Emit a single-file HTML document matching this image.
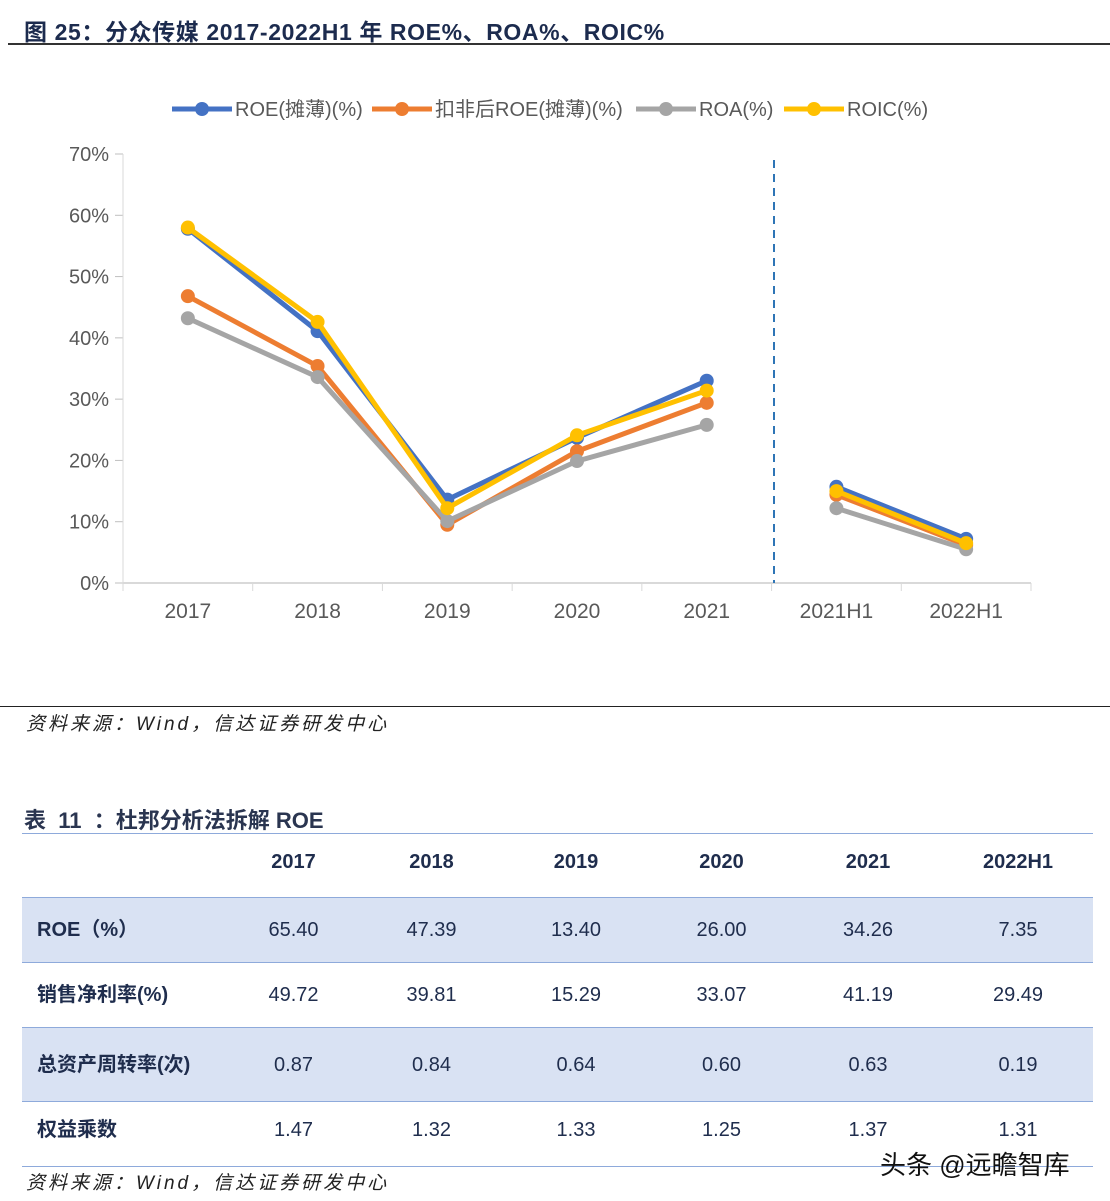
<!DOCTYPE html>
<html><head><meta charset="utf-8"><style>
body{margin:0;width:1110px;height:1201px;background:#fff;position:relative;overflow:hidden;font-family:"Liberation Sans","Noto Sans CJK SC",sans-serif;}
.abs{position:absolute;}
.t{color:#1c2b4e;font-weight:bold;}
table{border-collapse:collapse;}
td{color:#1f2d4d;font-size:20px;text-align:center;padding:0;line-height:20px;}
</style></head><body>
<div class="abs t" style="left:24px;top:13px;font-size:23px;letter-spacing:0.6px;">图 25：分众传媒 2017-2022H1 年 ROE%、ROA%、ROIC%</div>
<div class="abs" style="left:8px;top:43px;width:1102px;height:2px;background:#333;"></div>
<svg class="abs" style="left:0;top:50px" width="1110" height="600" id="chart"></svg>
<div class="abs" style="left:0;top:706px;width:1110px;height:1px;background:#222;"></div>
<div class="abs" style="left:26px;top:709px;font-size:19px;font-style:italic;color:#222;letter-spacing:3px;">资料来源：Wind，信达证券研发中心</div>
<div class="abs t" style="left:24px;top:803px;font-size:22px;color:#2a3550;">表&nbsp; 11&nbsp; ：杜邦分析法拆解 ROE</div>
<table class="abs" style="left:22px;top:833px;width:1071px;border-top:1px solid #8eaadb;">
<colgroup><col style="width:200px"><col style="width:143px"><col style="width:133px"><col style="width:156px"><col style="width:135px"><col style="width:158px"><col></colgroup>
<tr style="height:64px;border-bottom:1px solid #8eaadb;"><td style="padding-bottom:8px"></td><td style="padding-bottom:8px"><b>2017</b></td><td style="padding-bottom:8px"><b>2018</b></td><td style="padding-bottom:8px"><b>2019</b></td><td style="padding-bottom:8px"><b>2020</b></td><td style="padding-bottom:8px"><b>2021</b></td><td style="padding-bottom:8px;padding-right:4px"><b>2022H1</b></td></tr>
<tr style="height:65px;background:#d9e2f3;border-bottom:1px solid #8eaadb;"><td style="text-align:left;padding-left:15px"><b>ROE（%）</b></td><td>65.40</td><td>47.39</td><td>13.40</td><td>26.00</td><td>34.26</td><td style="padding-right:4px">7.35</td></tr>
<tr style="height:65px;border-bottom:1px solid #8eaadb;"><td style="text-align:left;padding-left:15px"><b>销售净利率(%)</b></td><td>49.72</td><td>39.81</td><td>15.29</td><td>33.07</td><td>41.19</td><td style="padding-right:4px">29.49</td></tr>
<tr style="height:74px;background:#d9e2f3;border-bottom:1px solid #8eaadb;"><td style="text-align:left;padding-left:15px"><b>总资产周转率(次)</b></td><td>0.87</td><td>0.84</td><td>0.64</td><td>0.60</td><td>0.63</td><td style="padding-right:4px">0.19</td></tr>
<tr style="height:65px;border-bottom:1px solid #8eaadb;"><td style="text-align:left;padding-left:15px;padding-bottom:8px"><b>权益乘数</b></td><td style="padding-bottom:8px">1.47</td><td style="padding-bottom:8px">1.32</td><td style="padding-bottom:8px">1.33</td><td style="padding-bottom:8px">1.25</td><td style="padding-bottom:8px">1.37</td><td style="padding-bottom:8px;padding-right:4px">1.31</td></tr>
</table>
<div class="abs" style="left:26px;top:1168px;font-size:19px;font-style:italic;color:#222;letter-spacing:3px;">资料来源：Wind，信达证券研发中心</div>
<div class="abs" style="left:880px;top:1145px;font-size:26px;color:#111;">头条 @远瞻智库</div>
<script>
const categories=["2017","2018","2019","2020","2021","2021H1","2022H1"];
const roe=[57.8,41.1,13.6,23.7,33.0,15.7,7.2];
const roeAdj=[46.8,35.4,9.5,21.5,29.4,14.4,6.2];
const roa=[43.2,33.6,10.1,19.9,25.8,12.2,5.5];
const roic=[58.0,42.6,12.2,24.1,31.4,15.0,6.5];
const yTicks=[0,10,20,30,40,50,60,70];
const seriesNames=["ROE(摊薄)(%)","扣非后ROE(摊薄)(%)","ROA(%)","ROIC(%)"];
const seriesData=[roe,roeAdj,roa,roic];
const colors=["#4472c4","#ed7d31","#a5a5a5","#ffc000"];
const svg=document.getElementById('chart');
const NS="http://www.w3.org/2000/svg";
const x0=123,x1=1031,yb=533,yt=104;
function X(i){return x0+(x1-x0)/categories.length*(i+0.5);}
function Y(v){return yb-(yb-yt)*v/70;}
function mk(t,a){const e=document.createElementNS(NS,t);for(const k in a)e.setAttribute(k,a[k]);svg.appendChild(e);return e;}
yTicks.forEach(v=>{
 const l=mk('line',{x1:x0-8,x2:x0,y1:Y(v),y2:Y(v),stroke:'#bfbfbf'});
 
 
 const t=mk('text',{x:x0-14,y:Y(v)+7,'text-anchor':'end','font-size':20,fill:'#595959','font-family':'Liberation Sans'});
 t.textContent=v+'%';
 
 
});
const ax=mk('line',{x1:x0,x2:x0,y1:yt,y2:yb,stroke:'#d9d9d9'});


const xa=mk('line',{x1:x0,x2:x1,y1:yb,y2:yb,stroke:'#d9d9d9','stroke-width':2});


for(let i=0;i<=categories.length;i++){
 const tk=mk('line',{x1:x0+(x1-x0)/categories.length*i,x2:x0+(x1-x0)/categories.length*i,y1:yb,y2:yb+8,stroke:'#d9d9d9'});
 
 
}
categories.forEach((c,i)=>{
 const t=mk('text',{x:X(i),y:yb+35,'text-anchor':'middle','font-size':21,fill:'#595959','font-family':'Liberation Sans'});
 t.textContent=c;
 
 
});
const dl=mk('line',{x1:774,x2:774,y1:110,y2:yb,stroke:'#2e75b6','stroke-width':2,'stroke-dasharray':'8,6'});


seriesData.forEach((d,s)=>{
 [[0,5],[5,7]].forEach(([a,b])=>{
  let pts=[];for(let i=a;i<b;i++)pts.push(X(i)+','+Y(d[i]));
  const p=mk('polyline',{points:pts.join(' '),fill:'none',stroke:colors[s],'stroke-width':5});
  
  
 });
 d.forEach((v,i)=>{
  const c=mk('circle',{cx:X(i),cy:Y(v),r:7,fill:colors[s]});
  
  
 });
});
const legX=[172,372,636,784];
seriesNames.forEach((n,s)=>{
 const g=mk('g',{});
 
 
 const l=document.createElementNS(NS,'line');
 l.setAttribute('x1',legX[s]);l.setAttribute('x2',legX[s]+60);l.setAttribute('y1',59);l.setAttribute('y2',59);l.setAttribute('stroke',colors[s]);l.setAttribute('stroke-width',5);
 g.appendChild(l);
 const c=document.createElementNS(NS,'circle');
 c.setAttribute('cx',legX[s]+30);c.setAttribute('cy',59);c.setAttribute('r',7);c.setAttribute('fill',colors[s]);
 g.appendChild(c);
 const t=document.createElementNS(NS,'text');
 t.setAttribute('x',legX[s]+63);t.setAttribute('y',66);t.setAttribute('font-size',20);t.setAttribute('fill','#595959');t.setAttribute('font-family','Liberation Sans, Noto Sans CJK SC, sans-serif');
 t.textContent=n;g.appendChild(t);
});
</script>
</body></html>
